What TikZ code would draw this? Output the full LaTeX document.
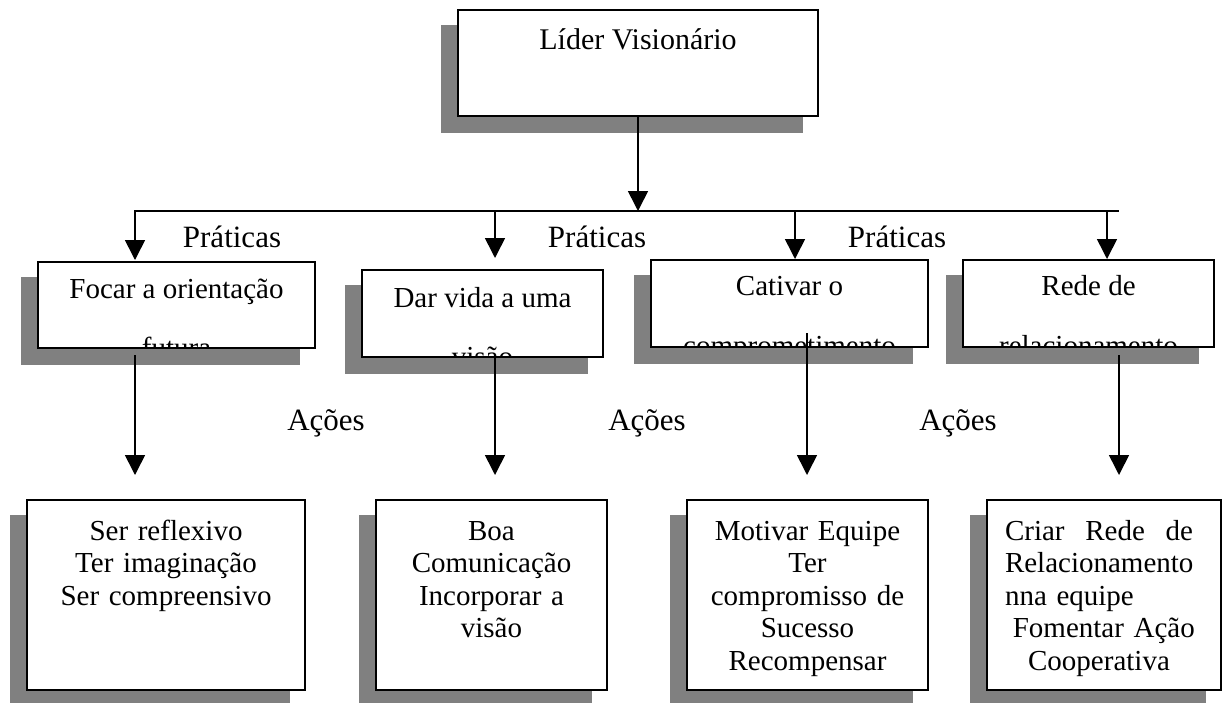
\documentclass[tikz,border=0pt]{standalone}
\usepackage{fontspec}
\setmainfont{Liberation Serif}
\usetikzlibrary{arrows.meta}
\pgfdeclarelayer{bg}
\pgfsetlayers{bg,main}
\definecolor{shadowc}{HTML}{808080}
\newcommand\fsbox{\fontsize{29}{32.5}\selectfont}
\newcommand\fslab{\fontsize{31}{36}\selectfont}
\newcommand\fstop{\fontsize{30}{34}\selectfont}
\begin{document}
\begin{tikzpicture}[x=1pt,y=-1pt,
  boxbase/.style={draw, line width=1.8pt, fill=white, rectangle, inner sep=0pt},
  txt/.style={anchor=base, inner sep=0pt, font=\fsbox},
  btxt/.style={anchor=base, inner sep=0pt, font=\fsbox, align=center},
  lab/.style={anchor=base, inner sep=0pt, font=\fslab},
  conn/.style={line width=1.6pt, -{Triangle[width=20pt,length=20pt]}},
  plain/.style={line width=1.6pt}
]
\useasboundingbox (0,0) rectangle (1223,702);

% top box
\node[boxbase, minimum width=360pt, minimum height=106pt] (top) at (638,63) {};
\node[txt, font=\fstop] (topt) at ([yshift=-40pt]top.north) {Líder Visionário};

% practice boxes
\node[boxbase, minimum width=277pt, minimum height=86pt] (p1) at (176.5,305) {};
\node[boxbase, minimum width=241pt, minimum height=87pt] (p2) at (482.5,313.5) {};
\node[boxbase, minimum width=277pt, minimum height=87pt] (p3) at (789.5,303.5) {};
\node[boxbase, minimum width=251pt, minimum height=87pt] (p4) at (1088.5,303.5) {};

\begin{scope}
  \clip ([yshift=2pt]p1.south west) rectangle (p1.north east);
  \node[txt] (p1a) at ([yshift=-37pt]p1.north) {Focar a orientação};
  \node[txt] (p1b) at ([yshift=-96pt]p1.north) {futura};
\end{scope}
\begin{scope}
  \clip ([yshift=2pt]p2.south west) rectangle (p2.north east);
  \node[txt] (p2a) at ([yshift=-38pt]p2.north) {Dar vida a uma};
  \node[txt] (p2b) at ([yshift=-97pt]p2.north) {visão};
\end{scope}
\begin{scope}
  \clip ([yshift=2pt]p3.south west) rectangle (p3.north east);
  \node[txt] (p3a) at ([yshift=-36pt]p3.north) {Cativar o};
  \node[txt] (p3b) at ([yshift=-96pt]p3.north) {comprometimento};
\end{scope}
\begin{scope}
  \clip ([yshift=2pt]p4.south west) rectangle (p4.north east);
  \node[txt] (p4a) at ([yshift=-36pt]p4.north) {Rede de};
  \node[txt] (p4b) at ([yshift=-96pt]p4.north) {relacionamento};
\end{scope}

% action boxes
\node[boxbase, minimum width=278pt, minimum height=190pt] (b1) at (166,595) {};
\node[boxbase, minimum width=231pt, minimum height=190pt] (b2) at (491.5,595) {};
\node[boxbase, minimum width=241pt, minimum height=190pt] (b3) at (807.5,595) {};
\node[boxbase, minimum width=234pt, minimum height=190pt] (b4) at (1104,595) {};

\node[btxt, text width=270pt] (b1t) at ([yshift=-41pt]b1.north) {Ser reflexivo\\Ter imaginação\\Ser compreensivo};
\node[btxt, text width=225pt] (b2t) at ([yshift=-41pt]b2.north) {Boa\\Comunicação\\Incorporar a\\visão};
\node[btxt, text width=235pt] (b3t) at ([yshift=-41pt]b3.north) {Motivar Equipe\\Ter\\compromisso de\\Sucesso\\Recompensar};
\node[btxt, text width=188pt] (b4t) at ([yshift=-41pt,xshift=-5pt]b4.north) {%
  \makebox[188pt][s]{Criar\hfill Rede\hfill de}\\
  \makebox[188pt][l]{Relacionamento}\\
  \makebox[188pt][l]{nna equipe}\\
  \makebox[188pt][c]{\ Fomentar Ação}\\
  \makebox[188pt][c]{Cooperativa}};

% shadows
\begin{pgfonlayer}{bg}
  \foreach \n in {top,p1,p2,p3,p4,b1,b2,b3,b4}
    \fill[shadowc] ([shift={(-16,16)}]\n.south west) rectangle ([shift={(-16,16)}]\n.north east);
\end{pgfonlayer}

% connectors
\coordinate (jt) at (638,211);
\coordinate (hl) at (134,211);
\coordinate (hr) at (1119,211);
\coordinate (j1) at (135,211);
\coordinate (j2) at (495,211);
\coordinate (j3) at (795,211);
\coordinate (j4) at (1107,211);
\coordinate (t1) at (135,260);
\coordinate (t2) at (495,258);
\coordinate (t3) at (795,259);
\coordinate (t4) at (1107,259);
\coordinate (s1) at (135,355);
\coordinate (s2) at (495,357);
\coordinate (s3) at (807,333);
\coordinate (s4) at (1119,355);
\coordinate (e1) at (135,475);
\coordinate (e2) at (495,475);
\coordinate (e3) at (807,475);
\coordinate (e4) at (1119,475);

\draw[conn] (top.south) -- (jt);
\draw[plain] (hl) -- (hr);
\draw[conn] (j1) -- (t1);
\draw[conn] (j2) -- (t2);
\draw[conn] (j3) -- (t3);
\draw[conn] (j4) -- (t4);
\draw[conn] (s1) -- (e1);
\draw[conn] (s2) -- (e2);
\draw[conn] (s3) -- (e3);
\draw[conn] (s4) -- (e4);

% labels
\node[lab] (pr1) at (232,247) {Práticas};
\node[lab] (pr2) at (597,247) {Práticas};
\node[lab] (pr3) at (897,247) {Práticas};
\node[lab] (ac1) at (326,430) {Ações};
\node[lab] (ac2) at (647,430) {Ações};
\node[lab] (ac3) at (958,430) {Ações};
\end{tikzpicture}
\end{document}
